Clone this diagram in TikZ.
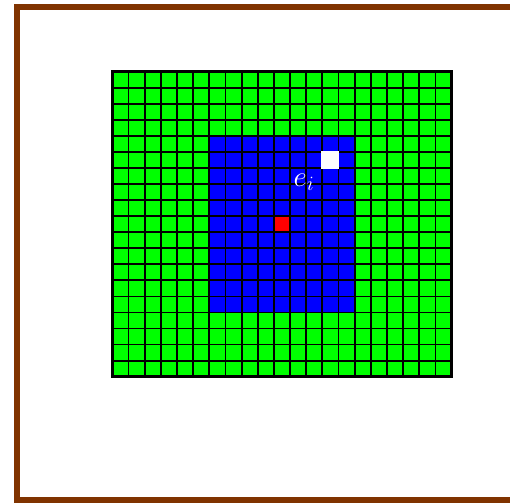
\documentclass[tikz,border=0pt]{standalone}
\usepackage{fix-cm}
\usetikzlibrary{positioning}
\definecolor{framebrown}{RGB}{128,51,0}

\begin{document}
\begin{tikzpicture}[
    x=1pt, y=-1pt,
    gridline/.style={black, line width=1.8pt},
    gridborder/.style={black, line width=2.8pt},
    frame/.style={draw=framebrown, line width=6pt},
    cursor/.style={fill=white},
    label/.style={text=white, font=\fontsize{29}{33}\selectfont}
]
    \clip (0,0) rectangle (510,502);
    \useasboundingbox (0,0) rectangle (510,502);
    \draw[frame] (17.3,7) rectangle (520,499.5);

    % grid of cells, 21 x 19
    \begin{scope}[shift={(112.4,71.7)}, x=16.15pt, y=-16.05pt]
        \fill[green] (0,0) rectangle (21,19);
        \fill[blue] (6,4) rectangle (15,15);
        \fill[red] (10,9) rectangle (11,10);
        \foreach \c in {1,...,20} \draw[gridline] (\c,0) -- (\c,19);
        \foreach \r in {1,...,18} \draw[gridline] (0,\r) -- (21,\r);
        \draw[gridborder] (0,0) rectangle (21,19);
        \fill[cursor] (13.5,5.5) ++(-0.56,-0.56) rectangle ++(1.12,1.12);
        \node[label] (ei) at (11.86,6.9) {$e_i$};
    \end{scope}
\end{tikzpicture}
\end{document}
